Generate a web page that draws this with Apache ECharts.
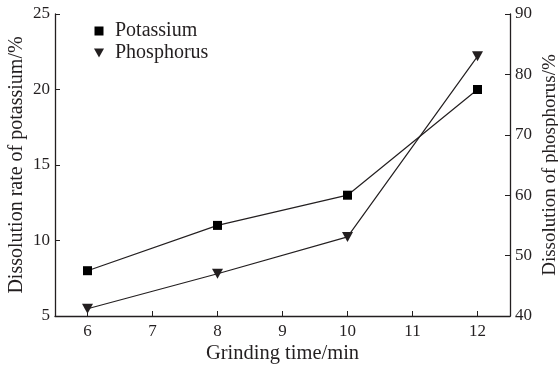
<!DOCTYPE html>
<html>
<head>
<meta charset="utf-8">
<script src="https://cdn.jsdelivr.net/npm/echarts@6/dist/echarts.min.js"></script>
<style>
  html, body { margin: 0; padding: 0; background: #fff; }
  #chart { width: 558px; height: 367px; }
</style>
</head>
<body>
<div id="chart"></div>
<script>
// Grinding time (min) and dissolution rates
const grindingTime = [6, 8, 10, 12];
const potassium = [8, 11, 13, 20];        // %, left axis
const phosphorus = [41.2, 47, 53.1, 83];  // %, right axis
const xTicks = [6, 7, 8, 9, 10, 11, 12];

const ink = '#231f20';
const font = 'Liberation Serif';
const downTriangle = 'path://M0,0 L10,0 L5,9 Z';
const square = 'path://M0,0 L10,0 L10,10 L0,10 Z';

const chart = echarts.init(document.getElementById('chart'), null, { renderer: 'canvas' });

const axisCommon = {
  axisLine: { show: true, lineStyle: { color: ink, width: 1.3 } },
  axisTick: { show: true, inside: true, length: 5, lineStyle: { color: ink, width: 1 } },
  splitLine: { show: false },
  axisLabel: { color: ink, fontFamily: font, fontSize: 17, margin: 5 },
  nameMoveOverlap: false
};

chart.setOption({
  animation: false,
  backgroundColor: '#fff',
  grid: {
    left: 55, right: 48, top: 14, bottom: 51,
    containLabel: false,
    outerBoundsMode: 'none'
  },
  legend: {
    orient: 'vertical',
    left: 89,
    top: 16,
    itemWidth: 22,
    itemHeight: 9,
    itemGap: 2,
    textStyle: { color: ink, fontFamily: font, fontSize: 20 },
    data: [
      { name: 'Potassium', icon: square },
      { name: 'Phosphorus', icon: downTriangle }
    ]
  },
  xAxis: Object.assign({}, axisCommon, {
    type: 'value',
    min: 5.5,
    max: 12.5,
    name: 'Grinding time/min',
    nameLocation: 'middle',
    nameGap: 27,
    nameTextStyle: { color: ink, fontFamily: font, fontSize: 20.5 },
    axisLabel: Object.assign({}, axisCommon.axisLabel, {
      margin: 7,
      customValues: xTicks
    }),
    axisTick: Object.assign({}, axisCommon.axisTick, {
      customValues: xTicks
    })
  }),
  yAxis: [
    Object.assign({}, axisCommon, {
      type: 'value',
      position: 'left',
      min: 5,
      max: 25,
      interval: 5,
      name: 'Dissolution rate of potassium/%',
      nameLocation: 'middle',
      nameRotate: 90,
      nameGap: 28,
      nameTextStyle: { color: ink, fontFamily: font, fontSize: 20 }
    }),
    Object.assign({}, axisCommon, {
      type: 'value',
      position: 'right',
      min: 40,
      max: 90,
      interval: 10,
      name: 'Dissolution of phosphorus/%',
      nameLocation: 'middle',
      nameRotate: 90,
      nameGap: 31,
      nameTextStyle: { color: ink, fontFamily: font, fontSize: 19 }
    })
  ],
  series: [
    {
      name: 'Potassium',
      type: 'line',
      yAxisIndex: 0,
      data: grindingTime.map((t, i) => [t, potassium[i]]),
      symbol: 'rect',
      symbolSize: 9,
      itemStyle: { color: '#000' },
      lineStyle: { color: ink, width: 1.2 }
    },
    {
      name: 'Phosphorus',
      type: 'line',
      yAxisIndex: 1,
      data: grindingTime.map((t, i) => [t, phosphorus[i]]),
      symbol: downTriangle,
      symbolSize: [11, 10],
      itemStyle: { color: ink },
      lineStyle: { color: ink, width: 1.2 }
    }
  ]
});
</script>
</body>
</html>
